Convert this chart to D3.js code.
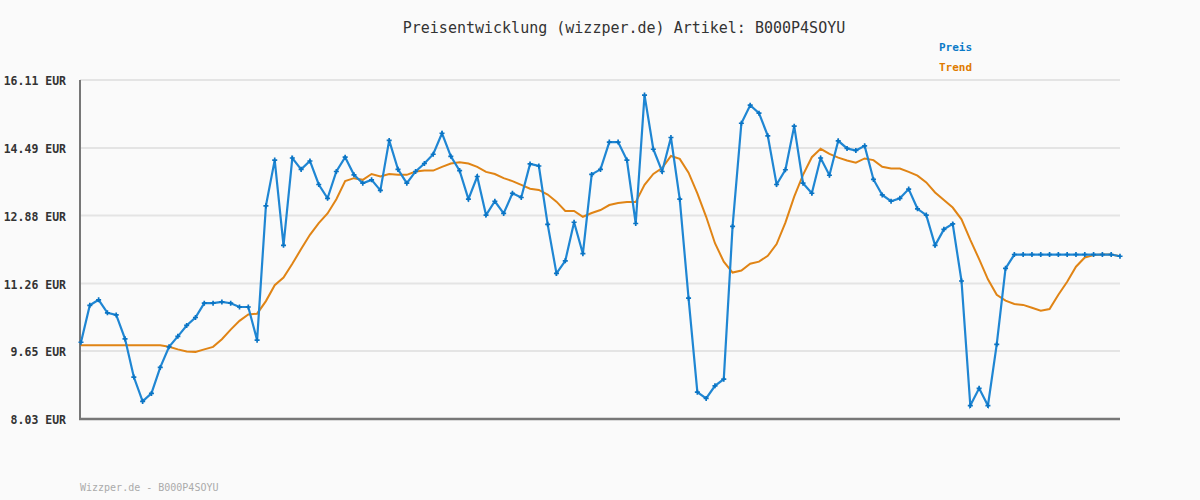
<!DOCTYPE html>
<html><head><meta charset="utf-8">
<script src="https://cdn.jsdelivr.net/npm/d3@7"></script>
<style>
html,body{margin:0;padding:0;background:#fafafa;}
svg{display:block;}
</style></head>
<body>
<svg id="c" width="1200" height="500"></svg>
<script>
const title = "Preisentwicklung (wizzper.de) Artikel: B000P4SOYU";
const footer = "Wizzper.de - B000P4SOYU";
const seriesNames = ["Preis", "Trend"];
const yTicks = [8.03, 9.65, 11.26, 12.88, 14.49, 16.11];
const preis = [9.86,10.74,10.87,10.56,10.51,9.94,9.03,8.45,8.64,9.26,
9.75,10.00,10.26,10.45,10.79,10.79,10.82,10.79,10.70,10.70,
9.91,13.11,14.20,12.17,14.25,13.98,14.18,13.62,13.29,13.93,
14.27,13.85,13.65,13.73,13.48,14.67,13.98,13.65,13.93,14.12,
14.34,14.84,14.29,13.95,13.27,13.81,12.89,13.22,12.93,13.41,
13.31,14.11,14.06,12.67,11.50,11.80,12.72,11.97,13.86,13.98,
14.63,14.63,14.20,12.69,15.75,14.46,13.93,14.74,13.27,10.91,
8.67,8.52,8.82,8.98,12.62,15.08,15.51,15.32,14.78,13.62,
13.97,15.01,13.65,13.41,14.25,13.84,14.66,14.48,14.43,14.54,
13.74,13.37,13.22,13.29,13.51,13.04,12.89,12.17,12.55,12.68,
11.32,8.35,8.76,8.35,9.81,11.62,11.95,11.95,11.95,11.95,
11.95,11.95,11.95,11.95,11.95,11.95,11.95,11.95,11.91];
const trend = [9.79,9.79,9.79,9.79,9.79,9.79,9.79,9.79,9.79,9.79,
9.75,9.69,9.64,9.63,9.69,9.75,9.93,10.16,10.37,10.52,
10.54,10.84,11.22,11.40,11.73,12.08,12.42,12.70,12.93,13.27,
13.70,13.77,13.73,13.87,13.81,13.87,13.85,13.85,13.93,13.95,
13.95,14.04,14.12,14.15,14.12,14.04,13.92,13.87,13.77,13.70,
13.61,13.52,13.49,13.38,13.21,12.99,12.99,12.85,12.94,13.01,
13.13,13.18,13.20,13.20,13.61,13.87,14.01,14.30,14.23,13.90,
13.41,12.85,12.22,11.78,11.52,11.57,11.73,11.78,11.92,12.20,
12.71,13.33,13.85,14.27,14.47,14.35,14.26,14.19,14.14,14.24,
14.20,14.04,14.00,14.00,13.92,13.83,13.67,13.43,13.25,13.07,
12.79,12.30,11.84,11.36,10.99,10.85,10.77,10.75,10.68,10.61,
10.65,10.99,11.30,11.66,11.88,11.94,11.95,11.95,11.91];

const svg = d3.select("#c");
const pLeft = 80, pRight = 1120, pTop = 80, pBottom = 419;
const x = d3.scaleLinear().domain([0, preis.length - 1]).range([81, 1120]);
const y = d3.scaleLinear().domain([8.03, 16.11]).range([pBottom, pTop]);

svg.append("rect").attr("width",1200).attr("height",500).attr("fill","#fafafa");

// grid
svg.append("g").selectAll("line").data(yTicks.slice(1)).join("line")
  .attr("x1", pLeft).attr("x2", pRight)
  .attr("y1", d => y(d)).attr("y2", d => y(d))
  .attr("stroke", "#e4e4e4").attr("stroke-width", 2);

// y axis labels
const yAxis = d3.axisLeft(y).tickValues(yTicks).tickSize(0).tickPadding(14)
  .tickFormat(d => d.toFixed(2) + " EUR");
const ga = svg.append("g").attr("transform", `translate(${pLeft},0)`).call(yAxis);
ga.select(".domain").remove();
ga.selectAll("text").attr("font-family","DejaVu Sans Mono").attr("font-size","11.5px")
  .attr("font-weight","bold").attr("fill","#333").attr("dy","0.4em");

// axes lines
svg.append("line").attr("x1",pLeft).attr("x2",pLeft).attr("y1",pTop).attr("y2",pBottom+1)
  .attr("stroke","#777").attr("stroke-width",2);
svg.append("line").attr("x1",pLeft-1).attr("x2",pRight).attr("y1",pBottom).attr("y2",pBottom)
  .attr("stroke","#777").attr("stroke-width",2.5);

// trend
svg.append("path").datum(trend)
  .attr("d", d3.line().x((d,i)=>x(i)).y(d=>y(d)))
  .attr("fill","none").attr("stroke","#e08415").attr("stroke-width",2);

// preis
svg.append("path").datum(preis)
  .attr("d", d3.line().x((d,i)=>x(i)).y(d=>y(d)))
  .attr("fill","none").attr("stroke","#1f86d3").attr("stroke-width",2.2);

svg.append("g").selectAll("path").data(preis).join("path")
  .attr("transform",(d,i)=>`translate(${x(i)},${y(d)})`)
  .attr("d", d3.symbol().type(d3.symbolCross).size(14)())
  .attr("fill","#0a74c4");

// title
svg.append("text").attr("x", 624).attr("y", 33).attr("text-anchor","middle")
  .attr("font-family","DejaVu Sans Mono").attr("font-size","15px").attr("fill","#333")
  .text(title);

// legend
const legColors = ["#0a7ac8", "#e07b00"];
svg.append("g").selectAll("text").data(seriesNames).join("text")
  .attr("x", 939).attr("y",(d,i)=>51 + i*20)
  .attr("font-family","DejaVu Sans Mono").attr("font-size","11px").attr("font-weight","bold")
  .attr("fill",(d,i)=>legColors[i]).text(d=>d);

// footer
svg.append("text").attr("x", 80).attr("y", 491)
  .attr("font-family","DejaVu Sans Mono").attr("font-size","10px").attr("fill","#aaa")
  .text(footer);
</script>
</body></html>
